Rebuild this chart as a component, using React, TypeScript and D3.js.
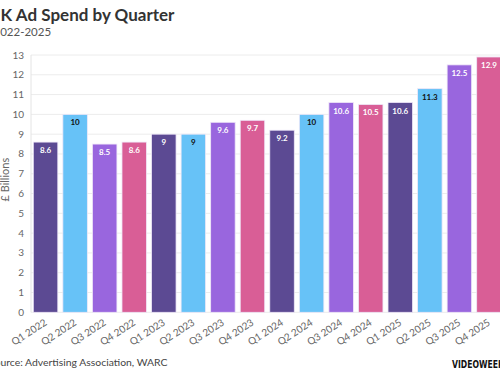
import React from "react";
import * as d3 from "d3";

const quarters = [
  "Q1 2022", "Q2 2022", "Q3 2022", "Q4 2022",
  "Q1 2023", "Q2 2023", "Q3 2023", "Q4 2023",
  "Q1 2024", "Q2 2024", "Q3 2024", "Q4 2024",
  "Q1 2025", "Q2 2025", "Q3 2025", "Q4 2025",
];
const spend = [8.6, 10, 8.5, 8.6, 9, 9, 9.6, 9.7, 9.2, 10, 10.6, 10.5, 10.6, 11.3, 12.5, 12.9];
const yTicks = [0, 1, 2, 3, 4, 5, 6, 7, 8, 9, 10, 11, 12, 13];
const quarterColors = ["#5c4a93", "#67c2f7", "#9966de", "#d95e96"];
const labelColors = ["#ffffff", "#111111", "#ffffff", "#ffffff"];

const W = 500;
const H = 383;
const FONT = "Lato, 'Open Sans', sans-serif";

export default function App() {
  const x = d3
    .scaleBand<string>()
    .domain(quarters)
    .range([31, 503.5])
    .paddingInner(0.171)
    .paddingOuter(0.078);
  const y = d3.scaleLinear().domain([0, 13]).range([312.3, 55]);

  return (
    <svg
      width={W}
      height={H}
      style={{ position: "absolute", left: 0, top: 0, background: "#fff" }}
      fontFamily={FONT}
    >
      <text x={-12} y={21} fontSize={17} fontWeight={700} fill="#333">
        UK Ad Spend by Quarter
      </text>
      <text x={-6.5} y={36} fontSize={11.5} fill="#555">
        2022-2025
      </text>

      {yTicks.map((t) => (
        <g key={t}>
          <line x1={31} x2={W} y1={y(t)} y2={y(t)} stroke="#ececec" strokeWidth={1} />
          <text x={24} y={y(t)} dy="0.35em" textAnchor="end" fontSize={10} fill="#666">
            {t}
          </text>
        </g>
      ))}
      <line x1={31} x2={31} y1={y(13)} y2={y(0)} stroke="#e4e4e4" />

      <text
        transform={`translate(9,${(y(0) + y(13)) / 2 - 4}) rotate(-90)`}
        textAnchor="middle"
        fontSize={11}
        fill="#666"
      >
        £ Billions
      </text>

      {quarters.map((q, i) => {
        const bx = x(q)!;
        const bw = x.bandwidth();
        const v = spend[i];
        return (
          <g key={q}>
            <rect
              x={bx}
              y={y(v)}
              width={bw}
              height={y(0) - y(v)}
              fill={quarterColors[i % 4]}
              stroke="#efe8f8"
              strokeWidth={0.8}
            />
            <text
              x={bx + bw / 2}
              y={y(v) + 11}
              textAnchor="middle"
              fontSize={8}
              fontWeight={700}
              fill={labelColors[i % 4]}
            >
              {v}
            </text>
            <text
              transform={`translate(${bx + bw / 2 + 2},${y(0) + 12}) rotate(-33)`}
              textAnchor="end"
              fontSize={10}
              fill="#666"
            >
              {q}
            </text>
          </g>
        );
      })}

      <text x={-11} y={366} fontSize={10.4} fill="#444">
        Source: Advertising Association, WARC
      </text>

      <text
        x={452}
        y={367.5}
        fontSize={11}
        fontWeight={900}
        fontFamily="'DejaVu Sans Condensed', 'DejaVu Sans', sans-serif"
        fill="#111"
        textLength={52}
        lengthAdjust="spacingAndGlyphs"
      >
        VIDEOWEEK
      </text>
    </svg>
  );
}
